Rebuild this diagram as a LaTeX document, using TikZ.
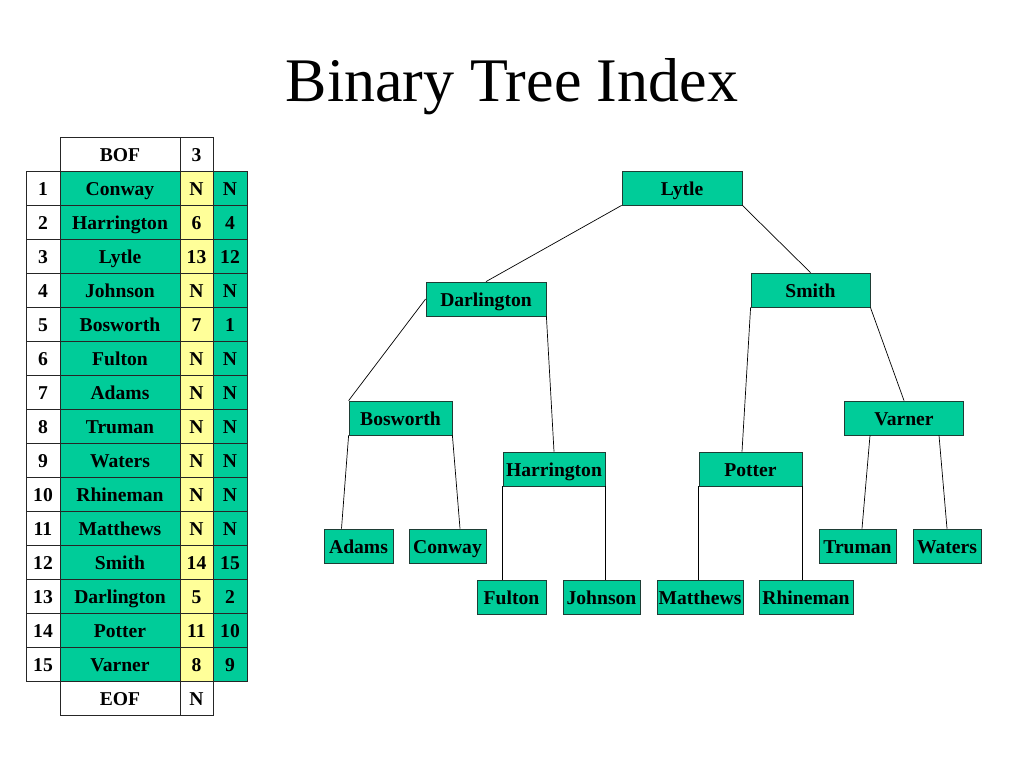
\documentclass[tikz,border=0pt]{standalone}
\usepackage{fontspec}
\setmainfont{Liberation Serif}
\usetikzlibrary{calc}
\definecolor{tgreen}{HTML}{00CC99}
\definecolor{tyellow}{HTML}{FFFF99}
\definecolor{tedge}{HTML}{1E3D35}
\begin{document}
\begin{tikzpicture}[x=1pt,y=-1pt,
  cell/.style={draw=black!85,line width=0.8pt,minimum height=34pt,inner sep=0pt,
    text height=14pt,text depth=0pt,
    font=\fontsize{19.6}{22}\selectfont\bfseries,anchor=center},
  numcell/.style={cell,fill=white,minimum width=34pt},
  namecell/.style={cell,fill=tgreen,minimum width=120pt},
  lcell/.style={cell,fill=tyellow,minimum width=33pt},
  rcell/.style={cell,fill=tgreen,minimum width=34pt},
  tnode/.style={draw=tedge,line width=0.8pt,fill=tgreen,minimum height=34pt,inner sep=0pt,
    text height=14pt,text depth=0pt,
    font=\fontsize{19.6}{22}\selectfont\bfseries},
  link/.style={draw=black,line width=0.7pt}]
\useasboundingbox (0,0) rectangle (1024,768);
\fill[white] (0,0) rectangle (1024,768);
\node[font=\fontsize{62}{70}\selectfont] (title) at (512,87) {Binary Tree Index};
% table
\node[namecell,fill=white] (bofname) at (120,154) {BOF};
\node[lcell,fill=white] (bofl) at (196.5,154) {3};
\foreach \i/\n/\l/\r in {1/Conway/N/N,2/Harrington/6/4,3/Lytle/13/12,4/Johnson/N/N,
  5/Bosworth/7/1,6/Fulton/N/N,7/Adams/N/N,8/Truman/N/N,9/Waters/N/N,10/Rhineman/N/N,
  11/Matthews/N/N,12/Smith/14/15,13/Darlington/5/2,14/Potter/11/10,15/Varner/8/9}{
  \pgfmathsetmacro{\yy}{188+34*(\i-1)}
  \node[numcell] (num\i) at (43,\yy) {\i};
  \node[namecell] (name\i) at (120,\yy) {\n};
  \node[lcell] (l\i) at (196.5,\yy) {\l};
  \node[rcell] (r\i) at (230,\yy) {\r};
}
\node[namecell,fill=white] (eofname) at (120,698) {EOF};
\node[lcell,fill=white] (eofl) at (196.5,698) {N};
% tree
\node[tnode,minimum width=120pt] (lytle) at (682,188) {Lytle};
\node[tnode,minimum width=120pt] (darl) at (486,299) {Darlington};
\node[tnode,minimum width=119pt] (smith) at (810.5,290) {Smith};
\node[tnode,minimum width=103pt] (bosw) at (400.5,418) {Bosworth};
\node[tnode,minimum width=119pt] (varner) at (904,418) {Varner};
\node[tnode,minimum width=102pt] (harr) at (554,469) {Harrington};
\node[tnode,minimum width=103pt] (potter) at (750.5,469) {Potter};
\node[tnode,minimum width=69pt] (adams) at (358.5,546) {Adams};
\node[tnode,minimum width=77pt] (conway) at (447.5,546) {Conway};
\node[tnode,minimum width=77pt] (truman) at (857.5,546) {Truman};
\node[tnode,minimum width=68pt] (waters) at (947,546) {Waters};
\node[tnode,minimum width=69pt] (fulton) at (511.5,597) {Fulton};
\node[tnode,minimum width=77pt] (johnson) at (601.5,597) {Johnson};
\node[tnode,minimum width=86pt] (matt) at (700,597) {Matthews};
\node[tnode,minimum width=94pt] (rhine) at (806,597) {Rhineman};
% connectors
\draw[link] (lytle.south west) -- (darl.north);
\draw[link] (lytle.south east) -- (smith.north);
\draw[link] (darl.west) -- (bosw.north west);
\draw[link] (darl.south east) -- (harr.north);
\draw[link] (bosw.south west) -- ([xshift=-17pt]adams.north);
\draw[link] (bosw.south east) -- ([xshift=12.5pt]conway.north);
\draw[link] (harr.south west) -- (harr.south west |- fulton.north);
\draw[link] (harr.south east) -- (harr.south east |- johnson.north);
\draw[link] (smith.south west) -- ([xshift=-8.5pt]potter.north);
\draw[link] (smith.south east) -- (varner.north);
\draw[link] (potter.south west) -- (potter.south west |- matt.north);
\draw[link] (potter.south east) -- (potter.south east |- rhine.north);
\draw[link] ([xshift=-34pt]varner.south) -- ([xshift=4.5pt]truman.north);
\draw[link] ([xshift=35pt]varner.south) -- (waters.north);
\end{tikzpicture}
\end{document}
